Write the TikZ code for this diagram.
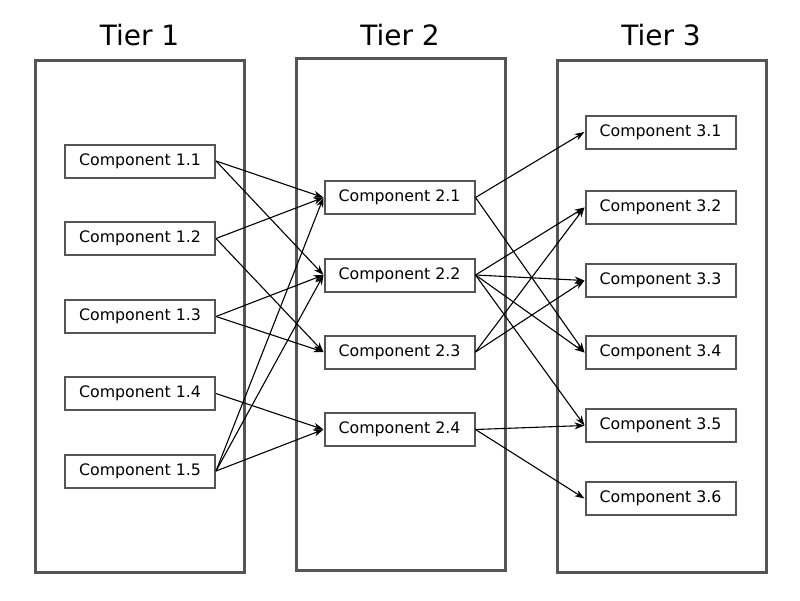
\documentclass[tikz,border=0pt]{standalone}
\usepackage{fontspec}
\setmainfont{DejaVu Sans}
\usetikzlibrary{arrows.meta}
\definecolor{boxgray}{HTML}{555555}
\begin{document}
\begin{tikzpicture}[x=1pt,y=-1pt,
  tier/.style={draw=boxgray,line width=3pt,minimum width=209pt,minimum height=512pt,inner sep=0pt},
  tiertitle/.style={font=\fontsize{28}{30}\selectfont,inner sep=0pt},
  comp/.style={draw=boxgray,line width=2pt,fill=white,minimum width=150pt,minimum height=33pt,inner sep=0pt,font=\fontsize{15.8}{18}\selectfont},
  link/.style={line width=1.1pt,-{Stealth[length=10pt,width=7pt]}}]
\useasboundingbox (0,0) rectangle (800,600);
\node[tier] (t1) at (139.5,316.5) {};
\node[tier] (t2) at (400.5,314.5) {};
\node[tier] (t3) at (661.5,316.5) {};
\node[tiertitle] (h1) at (139.5,35) {Tier 1};
\node[tiertitle] (h2) at (400,35) {Tier 2};
\node[tiertitle] (h3) at (661,35) {Tier 3};
\node[comp] (c11) at (140,161) {Component 1.1};
\node[comp] (c12) at (140,238.5) {Component 1.2};
\node[comp] (c13) at (140,316.5) {Component 1.3};
\node[comp] (c14) at (140,393.5) {Component 1.4};
\node[comp] (c15) at (140,471) {Component 1.5};
\node[comp] (c21) at (399.5,197.5) {Component 2.1};
\node[comp] (c22) at (399.5,275) {Component 2.2};
\node[comp] (c23) at (399.5,352) {Component 2.3};
\node[comp] (c24) at (399.5,429.5) {Component 2.4};
\node[comp] (c31) at (660.5,132) {Component 3.1};
\node[comp] (c32) at (660.5,207.5) {Component 3.2};
\node[comp] (c33) at (660.5,280.5) {Component 3.3};
\node[comp] (c34) at (660.5,352.5) {Component 3.4};
\node[comp] (c35) at (660.5,425.5) {Component 3.5};
\node[comp] (c36) at (660.5,498.5) {Component 3.6};
\foreach \a/\b in {c11/c21,c11/c22,c12/c21,c12/c23,c13/c22,c13/c23,c14/c24,c15/c21,c15/c22,c15/c24,
  c21/c31,c21/c34,c22/c32,c22/c33,c22/c34,c22/c35,c23/c32,c23/c33,c24/c35,c24/c36}
  \draw[link] (\a.east) -- (\b.west);
\end{tikzpicture}
\end{document}
